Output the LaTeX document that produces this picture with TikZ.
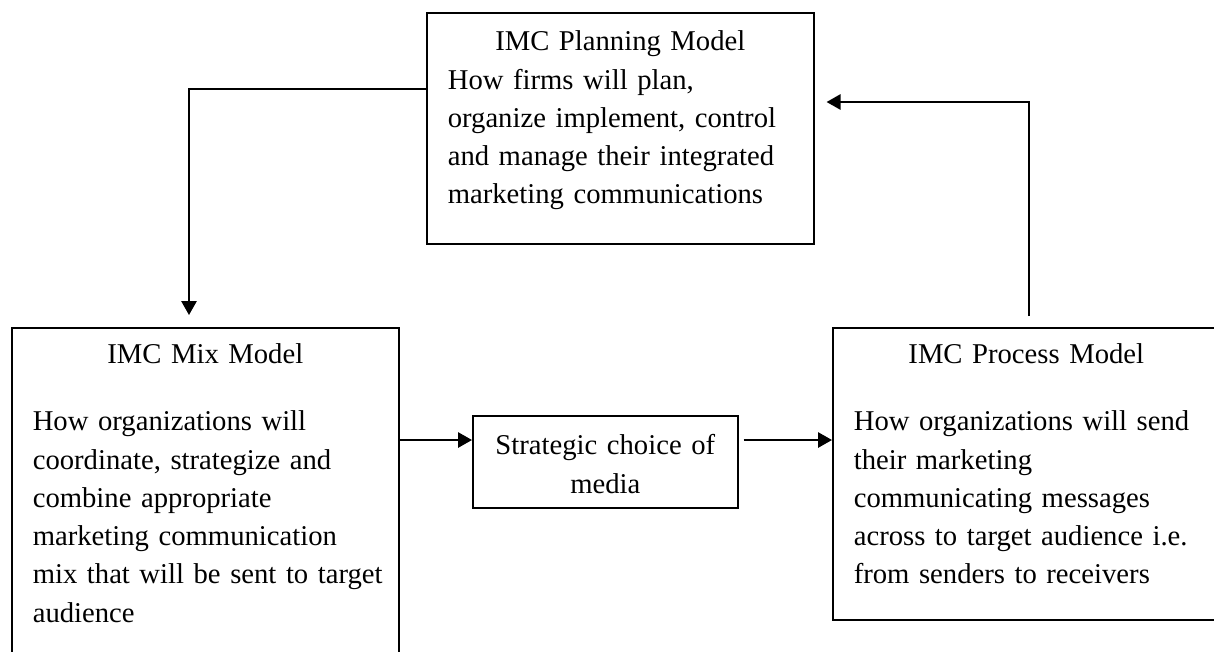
\documentclass[tikz,border=0pt]{standalone}
\usepackage{fontspec}
\setmainfont{Liberation Serif}
\usepackage{tikz}
\usetikzlibrary{arrows.meta,calc}
\tikzstyle{model} = [draw, line width=1.2pt, anchor=north west, align=left, inner xsep=15.75pt, inner ysep=0pt, text width=258.75pt]
\tikzstyle{arrow} = [line width=1.4pt, -{Triangle[length=10.5pt,width=11.5pt]}]

\begin{document}
\begin{tikzpicture}[x=0.75pt, y=-0.75pt, font=\fontsize{21.5}{28.7}\selectfont]
\useasboundingbox (0,0) rectangle (1214,651);
\clip (0,0) rectangle (1214,651);

% The three models
\node[model, text height=28.5pt, text depth=144.75pt] (plan) at (426,12) {\makebox[\linewidth]{IMC Planning Model}\\
  How firms will plan,\\ organize implement, control\\ and manage their integrated\\ marketing communications};
\node[model, text height=27pt, text depth=230.25pt] (mix) at (11,327) {\makebox[\linewidth]{IMC Mix Model}\\[21.5pt]
  How organizations will\\ coordinate, strategize and\\ combine appropriate\\ marketing communication\\ \mbox{mix that will be sent to target}\\ audience};
\node[model, text height=27pt, text depth=192pt] (process) at (832,327) {\makebox[\linewidth]{IMC Process Model}\\[21.5pt]
  How organizations will send\\ their marketing\\ communicating messages\\ across to target audience i.e.\\ from senders to receivers};

% Media choice in between
\node[model, align=center, inner xsep=0pt, text width=198.75pt, text height=29.25pt, text depth=39.75pt] (media) at (472,415) {Strategic choice of\\ media};

% Arrow ends
\coordinate (mixin) at ($(mix.north west)+(178,-12)$);
\coordinate (planin) at ($(plan.north east)+(12,90)$);
\coordinate (mediain) at ($(media.north west)+(0,25)$);

% Cycle
\draw[arrow] ($(plan.north west)+(0,77)$) -| (mixin);
\draw[arrow] (mix.east |- mediain) -- (mediain);
\draw[arrow] ($(media.east |- mediain)+(5,0)$) -- (process.west |- mediain);
\draw[arrow] ($(process.north west)+(197,-11)$) |- (planin);
\end{tikzpicture}
\end{document}
